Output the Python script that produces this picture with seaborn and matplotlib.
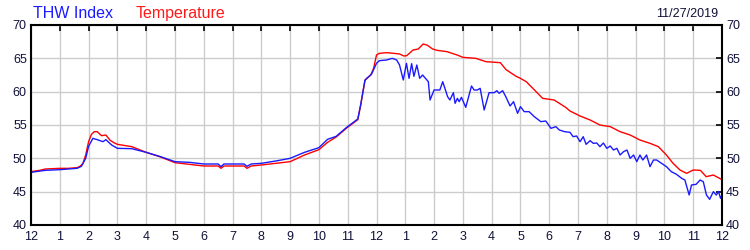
import matplotlib
matplotlib.use("Agg")
import matplotlib.pyplot as plt
import seaborn as sns
import pandas as pd

# ---- data (hours since midnight, °F) ----
temp_hours = [0.0, 0.3, 0.5, 1.0, 1.3, 1.6, 1.7, 1.8, 1.9, 2.0, 2.1, 2.2, 2.3, 2.45, 2.6, 2.75, 2.9, 3.0,
              3.5, 4.0, 4.5, 5.0, 5.5, 6.0, 6.5, 6.6, 6.7, 7.0, 7.4, 7.5, 7.65, 8.0, 8.5, 9.0, 9.5, 10.0,
              10.3, 10.6, 10.95, 11.35, 11.45, 11.6, 11.8, 11.9, 12.0, 12.1, 12.35, 12.6, 12.8, 12.95,
              13.05, 13.27, 13.45, 13.62, 13.75, 13.95, 14.1, 14.45, 14.8, 15.0, 15.45, 15.8, 16.3, 16.5,
              16.85, 17.0, 17.2, 17.6, 17.77, 18.17, 18.57, 18.72, 19.07, 19.42, 19.76, 20.12, 20.46,
              20.81, 21.15, 21.5, 21.79, 22.07, 22.3, 22.54, 22.77, 23.0, 23.25, 23.45, 23.7, 24.0]
temp_values = [48.0, 48.2, 48.4, 48.5, 48.5, 48.6, 48.8, 49.2, 50.5, 52.5, 53.6, 54.0, 54.0, 53.4, 53.5, 52.7, 52.3, 52.1,
               51.75, 50.9, 50.2, 49.35, 49.1, 48.85, 48.85, 48.5, 48.85, 48.85, 48.85, 48.5, 48.85, 49.0, 49.25, 49.5, 50.5, 51.3,
               52.4, 53.2, 54.5, 55.8, 58.0, 61.7, 62.5, 63.5, 65.5, 65.75, 65.85, 65.75, 65.65, 65.35,
               65.4, 66.25, 66.4, 67.15, 67.0, 66.4, 66.2, 66.0, 65.5, 65.15, 65.0, 64.5, 64.35, 63.3,
               62.3, 62.0, 61.5, 59.75, 59.0, 58.75, 57.65, 57.1, 56.35, 55.75, 55.0, 54.75, 54.0,
               53.5, 52.75, 52.25, 51.75, 50.5, 49.25, 48.25, 47.75, 48.25, 48.2, 47.25, 47.5, 46.8]

thw_hours = [0.0, 0.5, 1.0, 1.6, 1.75, 1.9, 2.0, 2.15, 2.3, 2.5, 2.6, 2.8, 3.0, 3.5, 4.0, 4.5, 5.0, 5.5,
             6.0, 6.5, 6.6, 6.7, 7.0, 7.4, 7.5, 7.65, 8.0, 8.5, 9.0, 9.5, 10.0, 10.3, 10.6, 10.95, 11.35,
             11.45, 11.6, 11.66, 11.83, 11.9, 12.0, 12.1, 12.35, 12.55, 12.7, 12.8, 12.93, 13.04, 13.13,
             13.22, 13.3, 13.4, 13.5, 13.6, 13.7, 13.8, 13.86, 14.0, 14.1, 14.2, 14.3, 14.47, 14.55, 14.67,
             14.73, 14.81, 14.87, 14.95, 15.1, 15.3, 15.39, 15.5, 15.6, 15.74, 15.91, 16.09, 16.18, 16.26,
             16.38, 16.49, 16.64, 16.76, 16.9, 17.0, 17.13, 17.3, 17.48, 17.71, 17.88, 18.06, 18.23, 18.35,
             18.53, 18.72, 18.83, 18.95, 19.07, 19.18, 19.28, 19.42, 19.53, 19.65, 19.76, 19.88, 20.0,
             20.12, 20.23, 20.35, 20.46, 20.58, 20.7, 20.81, 20.93, 21.04, 21.15, 21.25, 21.38, 21.5,
             21.62, 21.73, 21.9, 22.07, 22.24, 22.42, 22.6, 22.71, 22.86, 22.94, 23.1, 23.24, 23.35,
             23.46, 23.57, 23.7, 23.8, 23.88, 23.95, 24.0]
thw_values = [47.9, 48.2, 48.3, 48.5, 48.8, 50.0, 51.8, 53.0, 52.8, 52.5, 52.8, 52.0, 51.5, 51.45, 50.9, 50.25, 49.5, 49.4,
              49.15, 49.15, 48.75, 49.15, 49.15, 49.15, 48.8, 49.15, 49.25, 49.6, 50.0, 50.9, 51.6, 52.85, 53.3, 54.6, 55.9,
              58.0, 61.75, 62.0, 62.65, 63.3, 64.25, 64.65, 64.75, 65.0, 64.75, 64.0, 61.75, 64.25, 62.0,
              64.2, 62.3, 64.0, 62.0, 62.5, 62.0, 61.5, 58.75, 60.25, 60.25, 60.25, 61.5, 59.25, 58.75, 59.85,
              58.25, 59.0, 58.5, 59.15, 57.65, 60.85, 60.25, 60.25, 60.5, 57.25, 59.85, 59.85, 60.15, 59.75,
              60.15, 59.25, 57.85, 58.5, 56.75, 57.75, 57.0, 57.0, 56.25, 55.5, 55.6, 54.5, 54.75, 54.25,
              54.0, 53.9, 53.25, 53.35, 52.5, 53.25, 52.1, 52.65, 52.25, 52.3, 51.75, 52.3, 51.5,
              51.85, 51.25, 51.5, 50.5, 51.0, 51.25, 50.0, 50.5, 49.5, 50.5, 49.75, 50.5, 48.75,
              49.75, 49.75, 49.25, 48.75, 48.0, 47.6, 47.0, 46.75, 44.5, 46.0, 46.1, 46.75, 46.5,
              44.5, 43.85, 45.0, 44.5, 45.0, 44.0, 44.5]

x_tick_labels = ["12", "1", "2", "3", "4", "5", "6", "7", "8", "9", "10", "11",
                 "12", "1", "2", "3", "4", "5", "6", "7", "8", "9", "10", "11", "12"]
y_ticks = [40, 45, 50, 55, 60, 65, 70]
series_labels = ["THW Index", "Temperature"]
date_label = "11/27/2019"

# ---- styling ----
sns.set_style("white")
plt.rcParams["font.family"] = ["Liberation Sans", "DejaVu Sans"]
text_col = "#10103a"

fig = plt.figure(figsize=(7.5, 2.5), dpi=100)
ax = fig.add_axes([31 / 750, 1 - 225 / 250, (722 - 31) / 750, 200 / 250])

temp_df = pd.DataFrame({"hour": temp_hours, "value": temp_values})
thw_df = pd.DataFrame({"hour": thw_hours, "value": thw_values})
sns.lineplot(data=temp_df, x="hour", y="value", ax=ax, color="#ff0000", linewidth=1.0, estimator=None, sort=False)
sns.lineplot(data=thw_df, x="hour", y="value", ax=ax, color="#1a1aff", linewidth=1.0, estimator=None, sort=False)

ax.set_xlim(0, 24)
ax.set_ylim(40, 70)
ax.set_xticks(range(25))
ax.set_xticklabels(x_tick_labels)
ax.set_yticks(y_ticks)
ax.set_xlabel("")
ax.set_ylabel("")
ax.grid(True, color="#cccccc", linewidth=1.0)
ax.set_axisbelow(True)
for s in ax.spines.values():
    s.set_color("black")
    s.set_linewidth(1.5)
ax.tick_params(axis="both", direction="in", length=4, width=1.2, color="black",
               labelsize=9, labelcolor=text_col, top=True, right=True,
               labelright=True, labelleft=True)
ax.tick_params(axis="x", pad=4)
ax.tick_params(axis="y", pad=3)

fig.text(33 / 750, 1 - 18 / 250, series_labels[0], color="#1a1aff", fontsize=11.5, va="baseline", ha="left")
fig.text(136 / 750, 1 - 18 / 250, series_labels[1], color="#ff1a1a", fontsize=11.5, va="baseline", ha="left")
fig.text(718 / 750, 1 - 17 / 250, date_label, color=text_col, fontsize=9, va="baseline", ha="right")

fig.savefig("out.png", dpi=100)
